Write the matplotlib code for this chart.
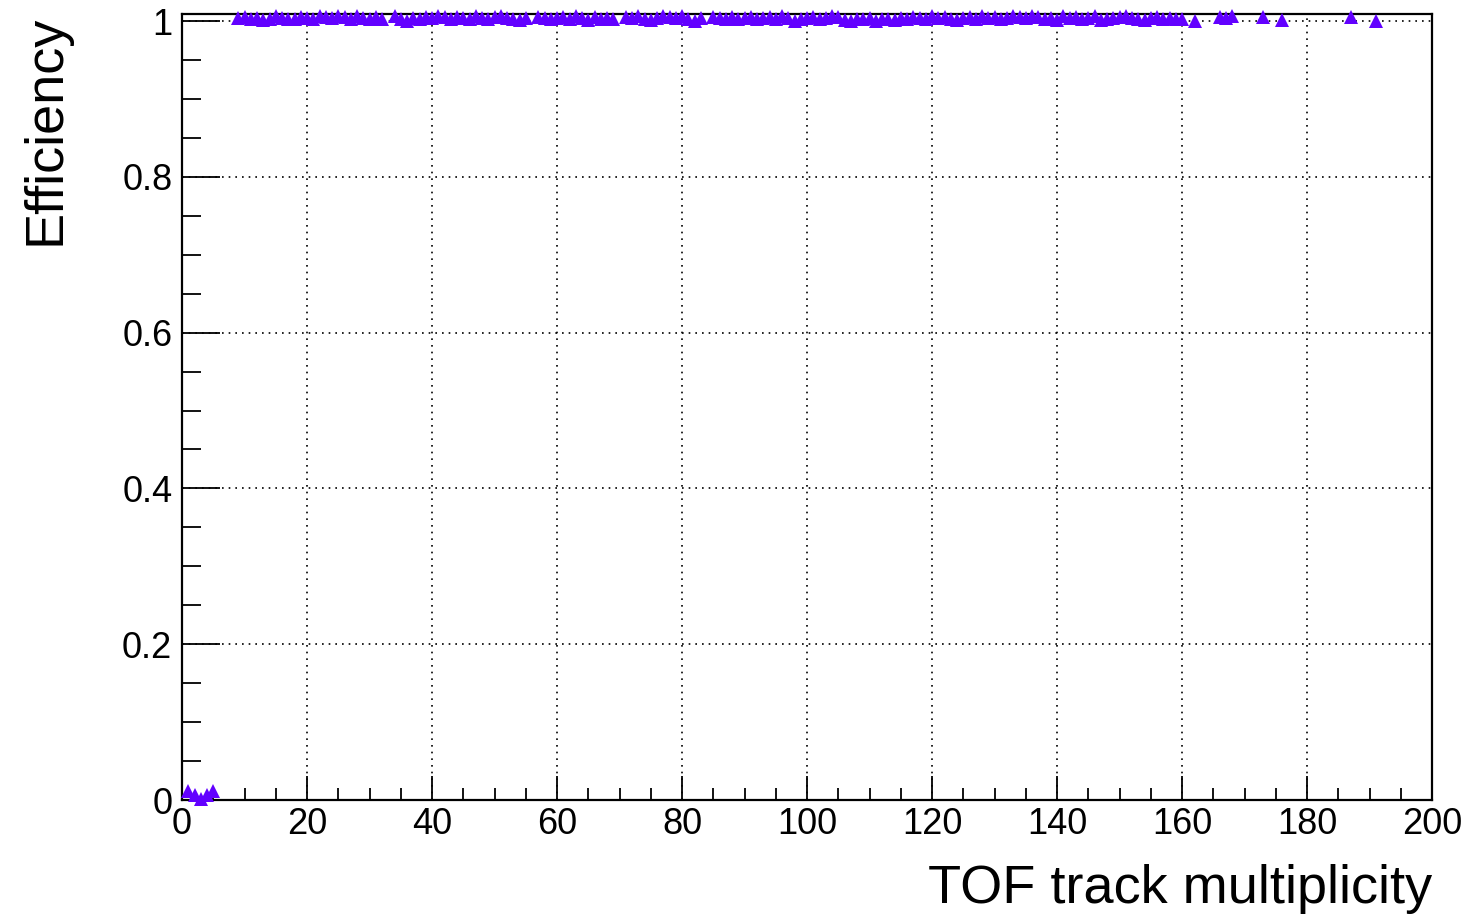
import matplotlib
matplotlib.use("Agg")
import matplotlib.pyplot as plt
from matplotlib.ticker import MultipleLocator

plt.rcParams['font.family'] = ['Liberation Sans', 'DejaVu Sans']

# ---- data ----
x_low = [1, 2, 3, 4, 5]
eff_low = [0.012, 0.006, 0.001, 0.007, 0.012]

x_high = ([i for i in range(9, 33)] + [i for i in range(34, 56)] +
          [i for i in range(57, 70)] + [i for i in range(71, 84)] +
          [i for i in range(85, 161)] + [162, 166, 167, 168, 173, 176, 187, 191])
eff_high = [
    # 9-32
    1.004, 1.005, 1.003, 1.004, 1.001, 1.003, 1.006, 1.004, 1.002, 1.003,
    1.005, 1.004, 1.003, 1.006, 1.005, 1.004, 1.006, 1.005, 1.003, 1.006,
    1.004, 1.002, 1.005, 1.003,
    # 34-55
    1.006, 1.002, 1.000, 1.004, 1.003, 1.005, 1.004, 1.006, 1.005, 1.003,
    1.005, 1.004, 1.002, 1.007, 1.004, 1.003, 1.005, 1.006, 1.004, 1.003,
    1.001, 1.004,
    # 57-69
    1.005, 1.004, 1.002, 1.004, 1.005, 1.003, 1.006, 1.004, 1.001, 1.005,
    1.003, 1.004, 1.002,
    # 71-83
    1.005, 1.004, 1.006, 1.003, 1.001, 1.004, 1.006, 1.005, 1.004, 1.006,
    1.003, 1.000, 1.004,
    # 85-160
    1.005, 1.004, 1.003, 1.005, 1.002, 1.004, 1.005, 1.003, 1.004, 1.005,
    1.002, 1.006, 1.004, 1.000, 1.003, 1.004, 1.005, 1.003, 1.004, 1.006,
    1.005, 1.001, 1.000, 1.003, 1.002, 1.004, 1.000, 1.002, 1.003, 1.001,
    1.004, 1.003, 1.005, 1.004, 1.002, 1.006, 1.004, 1.005, 1.003, 1.001,
    1.004, 1.005, 1.003, 1.006, 1.004, 1.005, 1.003, 1.004, 1.006, 1.005,
    1.004, 1.006, 1.005, 1.003, 1.004, 1.001, 1.006, 1.004, 1.005, 1.003,
    1.004, 1.006, 1.001, 1.003, 1.004, 1.005, 1.006, 1.004, 1.003, 1.001,
    1.004, 1.005, 1.003, 1.004, 1.002, 1.003,
    # sparse tail
    1.0, 1.005, 1.004, 1.006, 1.005, 1.001, 1.005, 1.0,
]

fig = plt.figure(figsize=(14.7, 9.17), dpi=100)
ax = fig.add_axes([182/1470, 1 - 800/917, (1432-182)/1470, (800-14)/917])

color = '#6200ff'
ax.plot(x_low, eff_low, linestyle='none', marker='^', markersize=10.5,
        markeredgewidth=0, color=color, clip_on=False, zorder=5)
ax.plot(x_high, eff_high, linestyle='none', marker='^', markersize=10.5,
        markeredgewidth=0, color=color, clip_on=False, zorder=5)

ax.set_xlim(0, 200)
ax.set_ylim(0, 1.009)

ax.xaxis.set_major_locator(MultipleLocator(20))
ax.xaxis.set_minor_locator(MultipleLocator(5))
ax.yaxis.set_major_locator(MultipleLocator(0.2))
ax.yaxis.set_minor_locator(MultipleLocator(0.05))

ax.tick_params(axis='x', which='major', direction='in', length=17, width=1.3,
               labelsize=26, pad=5, top=False)
ax.tick_params(axis='x', which='minor', direction='in', length=8.5, width=1.3, top=False)
ax.tick_params(axis='y', which='major', direction='in', length=27, width=1.3,
               labelsize=26, pad=7, right=False)
ax.tick_params(axis='y', which='minor', direction='in', length=13.5, width=1.3, right=False)

ax.set_xticks(range(0, 201, 20))
ax.set_xticklabels([str(v) for v in range(0, 201, 20)])
yt = [0, 0.2, 0.4, 0.6, 0.8, 1.0]
ax.set_yticks(yt)
ax.set_yticklabels(['0', '0.2', '0.4', '0.6', '0.8', '1'])

ax.grid(True, which='major', color='black', linestyle=(0, (1, 3)), linewidth=1.2)
ax.set_axisbelow(True)
for sp in ax.spines.values():
    sp.set_linewidth(1.6)

fig.text(1432/1470, 1 - 903/917, 'TOF track multiplicity', ha='right', va='baseline',
         fontsize=39)
fig.text(60/1470, 1 - 15/917, 'Efficiency', rotation=90, rotation_mode='anchor',
         ha='right', va='baseline', fontsize=39)

fig.savefig('out.png', dpi=100)
